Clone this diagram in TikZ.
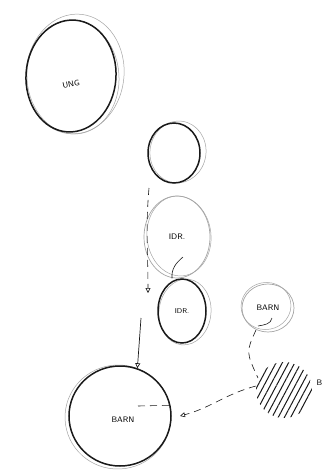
\documentclass[tikz,border=0pt]{standalone}
\usetikzlibrary{positioning, arrows.meta, shapes.geometric, patterns.meta, calc}
\definecolor{pencil}{RGB}{25,25,25}
\definecolor{sketch}{RGB}{165,165,165}
\tikzset{
  bold blob/.style={
    ellipse, draw=pencil, line width=1.5pt, inner sep=0pt,
    font=\footnotesize\sffamily
  },
  thin blob/.style={
    ellipse, draw=sketch, line width=0.7pt, inner sep=0pt,
    font=\footnotesize\sffamily
  },
  ghost/.style={ellipse, draw=sketch, line width=0.5pt, inner sep=0pt},
  hatched/.style={
    circle, inner sep=0pt,
    pattern={Lines[angle=62, distance=5.5pt, line width=1pt]}, pattern color=pencil
  },
  link/.style={draw=pencil, line width=0.6pt, dash pattern=on 7pt off 5pt},
  tip/.style={-{Triangle[open, length=5pt, width=5pt]}},
}

\begin{document}
\begin{tikzpicture}[x=1pt, y=-1pt]
  \useasboundingbox[fill=white] (0,0) rectangle (327,472);

  % top left
  \node[ghost, minimum width=98pt, minimum height=120pt, rotate=-6] (ung-g1) at (75,74) {};
  \node[ghost, minimum width=92pt, minimum height=114pt, rotate=4] (ung-g2) at (73,77) {};
  \node[bold blob, minimum width=90pt, minimum height=112pt, rotate=-4] (ung) at (71,76) {};
  \node[font=\footnotesize\sffamily, rotate=12] (ung-txt) at (71,84) {UNG};

  % middle column
  \node[ghost, minimum width=56pt, minimum height=62pt, rotate=-8] (top-g) at (178,152) {};
  \node[bold blob, minimum width=52pt, minimum height=60pt] (top) at (174,153) {};
  \node[thin blob, minimum width=66pt, minimum height=82pt] (idr) at (177,237) {IDR.};
  \node[ghost, minimum width=64pt, minimum height=80pt, rotate=6] (idr-g) at (179,236) {};
  \node[ghost, minimum width=52pt, minimum height=66pt, rotate=-6] (idr2-g) at (185,312) {};
  \node[bold blob, minimum width=48pt, minimum height=64pt, font=\scriptsize\sffamily] (idr2) at (182,311) {IDR.};

  % right side
  \node[thin blob, minimum width=52pt, minimum height=48pt] (barn-s) at (268,308) {BARN};
  \node[ghost, minimum width=50pt, minimum height=47pt, rotate=10] (barn-s-g) at (266,306) {};
  \node[hatched, minimum size=56pt] (hatch) at (284,390) {};
  \node[font=\footnotesize\sffamily, anchor=west] (hatch-txt) at (313,383) {B};

  % bottom
  \node[ghost, minimum width=106pt, minimum height=104pt, rotate=8] (barn-g) at (118,417) {};
  \node[bold blob, minimum width=102pt, minimum height=100pt] (barn) at (120,416) {};
  \node[font=\footnotesize\sffamily] (barn-txt) at (123,420) {BARN};

  \coordinate (drop) at (148,293);
  \coordinate (feed) at (141,318);
  \coordinate (land) at (180,416);

  \draw[pencil, line width=0.6pt] ([shift={(6pt,-20pt)}]idr.center) to[out=-140, in=95] ([xshift=-10pt]idr2.north);
  \draw[link, tip] ([shift={(-25pt,-35pt)}]top.center) to[out=-95, in=90] (drop);
  \draw[pencil, line width=0.7pt, tip] (feed) -- (barn.70);
  \draw[pencil, line width=0.6pt] ([shift={(4pt,-10pt)}]barn-s.center) to[out=-100, in=10] ([shift={(-10pt,-18pt)}]barn-s.center);
  \draw[link] ([shift={(-12pt,-22pt)}]barn-s.center) .. controls (246,352) .. ([shift={(-26pt,12pt)}]hatch.center);
  \draw[link, tip] (hatch.172) to[out=195, in=15] (land);
  \draw[link] ([shift={(18pt,10pt)}]barn.center) -- (barn.12);
\end{tikzpicture}
\end{document}
